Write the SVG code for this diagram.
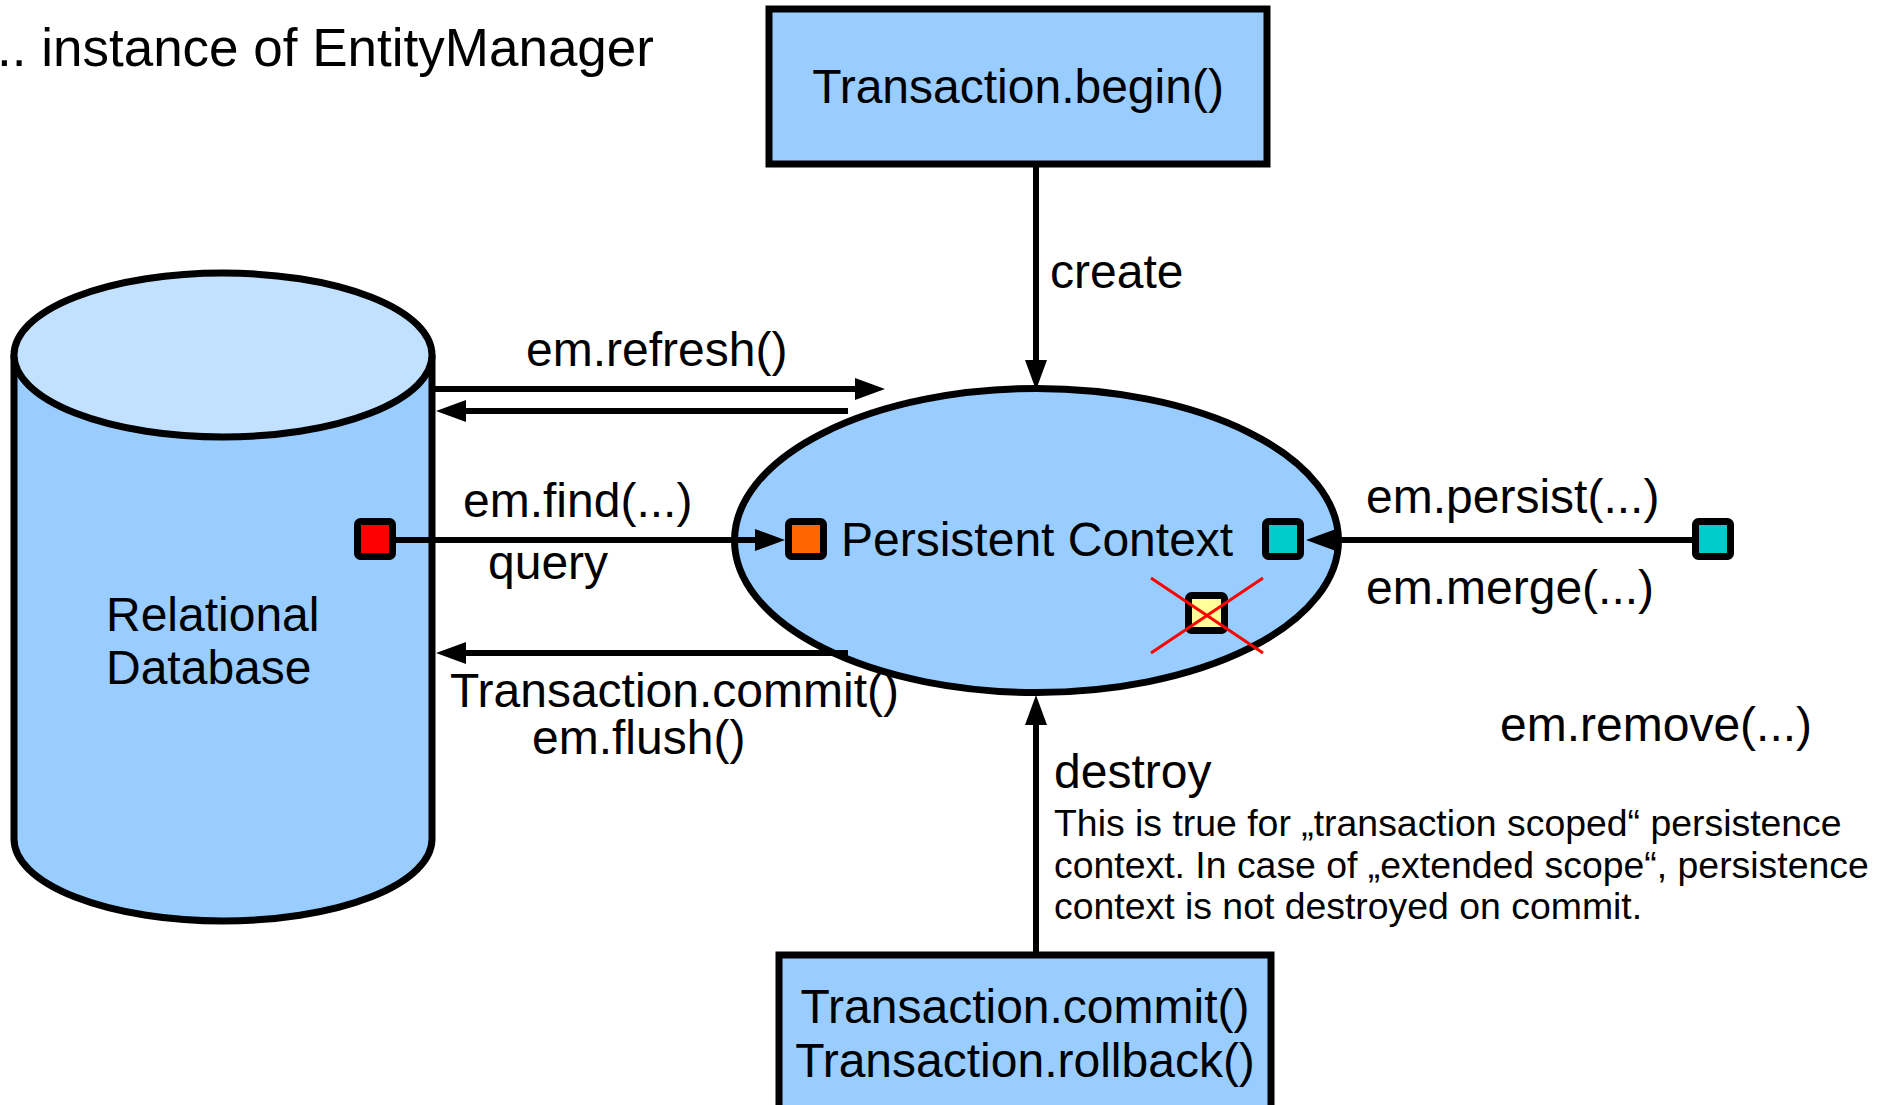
<svg xmlns="http://www.w3.org/2000/svg" width="1880" height="1105" viewBox="0 0 1880 1105">
<style>
text{font-family:"Liberation Sans",Arial,sans-serif;fill:#000}
.lbl{font-size:48px}
.small{font-size:37.4px}
.shape{fill:#99ccff;stroke:#000;stroke-width:7}
.conn{stroke:#000;stroke-width:6;fill:none}
.sq{stroke:#000;stroke-width:7}
</style>
<defs>
<marker id="ah" viewBox="0 0 30 22" markerWidth="30" markerHeight="22" refX="1" refY="11" orient="auto" markerUnits="userSpaceOnUse">
<path d="M0,0 L30,11 L0,22 z" fill="#000"/>
</marker>
</defs>
<rect width="1880" height="1105" fill="#fff"/>
<text id="title" x="-3" y="66" font-size="53">.. instance of EntityManager</text>

<g id="database">
<path class="shape" d="M14,355 L14,839 A209,82 0 0 0 432,839 L432,355"/>
<ellipse cx="223" cy="355" rx="209" ry="82" fill="#c2e1ff" stroke="#000" stroke-width="7"/>
<text class="lbl" x="106" y="631">Relational</text>
<text class="lbl" x="106" y="684">Database</text>
</g>

<g id="persistent-context">
<ellipse class="shape" cx="1036.5" cy="540.5" rx="302" ry="152"/>
<text class="lbl" x="841" y="556">Persistent Context</text>
</g>

<g id="begin-box">
<rect class="shape" x="769" y="9" width="498" height="155"/>
<text class="lbl" x="1018" y="103" text-anchor="middle">Transaction.begin()</text>
</g>

<g id="end-box">
<rect class="shape" x="779" y="955" width="492" height="170"/>
<text class="lbl" x="1025" y="1023" text-anchor="middle">Transaction.commit()</text>
<text class="lbl" x="1025" y="1077" text-anchor="middle">Transaction.rollback()</text>
</g>

<g id="connectors">
<line class="conn" x1="1036" y1="164" x2="1036" y2="361" marker-end="url(#ah)"/>
<line class="conn" x1="432" y1="389" x2="856" y2="389" marker-end="url(#ah)"/>
<line class="conn" x1="848" y1="411" x2="465" y2="411" marker-end="url(#ah)"/>
<line class="conn" x1="396" y1="540" x2="756" y2="540" marker-end="url(#ah)"/>
<line class="conn" x1="848" y1="653" x2="465" y2="653" marker-end="url(#ah)"/>
<line class="conn" x1="1692" y1="540" x2="1335" y2="540" marker-end="url(#ah)"/>
<line class="conn" x1="1036" y1="955" x2="1036" y2="724" marker-end="url(#ah)"/>
</g>

<g id="red-entity"><rect class="sq" x="357.5" y="521.5" width="35" height="35" rx="3" fill="#ff0000"/></g>
<g id="orange-entity"><rect class="sq" x="788.5" y="521.5" width="35" height="35" rx="3" fill="#ff6600"/></g>
<g id="teal-entity-in"><rect class="sq" x="1265.5" y="521.5" width="35" height="35" rx="3" fill="#00cccc"/></g>
<g id="teal-entity-out"><rect class="sq" x="1695.5" y="521.5" width="35" height="35" rx="3" fill="#00cccc"/></g>
<g id="removed-entity">
<rect class="sq" x="1188.5" y="595.5" width="36" height="35" rx="3" fill="#ffff99"/>
<line x1="1151" y1="578" x2="1263" y2="653" stroke="#ff0000" stroke-width="3"/>
<line x1="1263" y1="578" x2="1151" y2="653" stroke="#ff0000" stroke-width="3"/>
</g>

<g id="labels">
<text class="lbl" x="1050" y="288">create</text>
<text class="lbl" x="526" y="366">em.refresh()</text>
<text class="lbl" x="463" y="517">em.find(...)</text>
<text class="lbl" x="488" y="579">query</text>
<text class="lbl" x="450" y="707">Transaction.commit()</text>
<text class="lbl" x="532" y="754">em.flush()</text>
<text class="lbl" x="1366" y="513">em.persist(...)</text>
<text class="lbl" x="1366" y="604">em.merge(...)</text>
<text class="lbl" x="1500" y="741">em.remove(...)</text>
<text class="lbl" x="1054" y="788">destroy</text>
<text class="small" x="1054" y="836">This is true for „transaction scoped“ persistence</text>
<text class="small" x="1054" y="878">context. In case of „extended scope“, persistence</text>
<text class="small" x="1054" y="919">context is not destroyed on commit.</text>
</g>
</svg>
